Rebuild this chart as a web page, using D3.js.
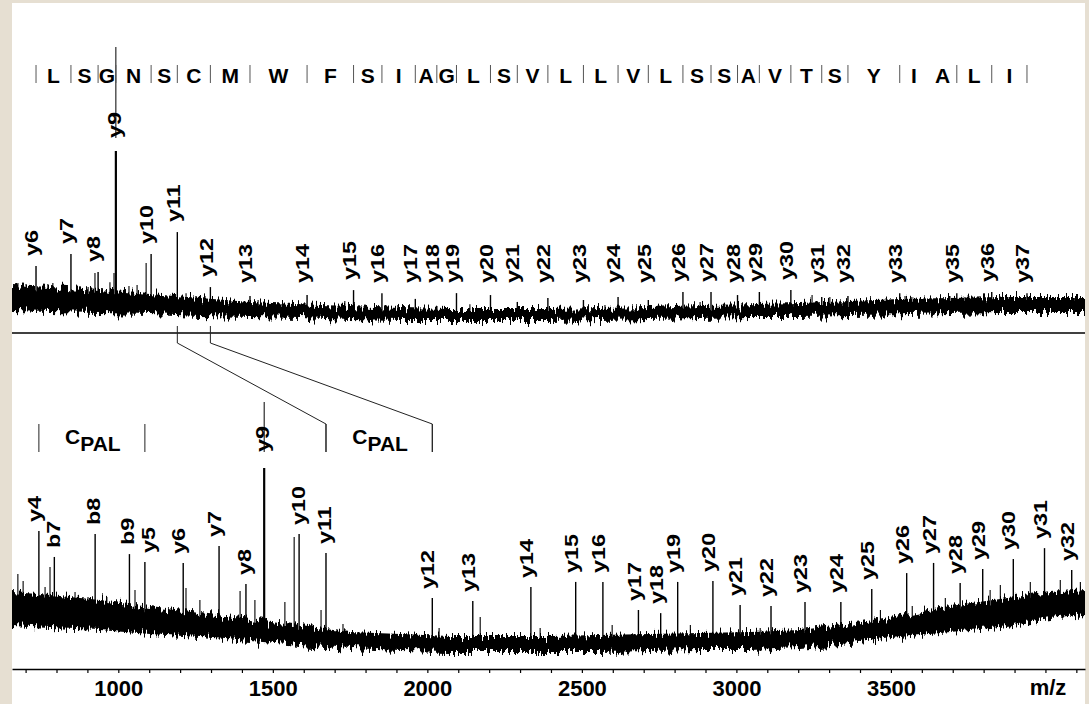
<!DOCTYPE html>
<html>
<head>
<meta charset="utf-8">
<script src="https://cdn.jsdelivr.net/npm/d3@7"></script>
<style>
  html, body { margin: 0; padding: 0; background: #e6dfd2; }
  svg { display: block; }
  text { font-family: "Liberation Sans", Arial, Helvetica, sans-serif; font-weight: bold; fill: #000; }
</style>
</head>
<body>
<svg id="chart" width="1089" height="704"></svg>
<script>
// ===== Upper trace: unmodified peptide, y-ion ladder =====
const topIonLabels = ["y6","y7","y8","y9","y10","y11","y12","y13","y14","y15","y16","y17","y18","y19","y20",
  "y21","y22","y23","y24","y25","y26","y27","y28","y29","y30","y31","y32","y33","y35","y36","y37"];
const topIonMz = [637, 749, 836, 893, 1006, 1090, 1196, 1323, 1506, 1655, 1746, 1853, 1922, 1985, 2094,
  2180, 2278, 2392, 2503, 2600, 2711, 2801, 2886, 2956, 3057, 3156, 3240, 3406, 3589, 3701, 3814];
const topIonIntensity = [20.4, 24.7, 18.2, 100, 24.7, 32.7, 12.7, 9.5, 9.8, 11.6, 10.5, 8.4, 5.8, 10.5, 9.8,
  7.3, 8.7, 8.0, 9.1, 8.0, 10.9, 10.9, 9.8, 10.9, 11.6, 9.1, 9.5, 10.5, 10.5, 10.9, 10.5];
// residues read between consecutive ions of the ladder
const topResidues = ["L","S","G","N","S","C","M","W","F","S","I","A","G","L","S","V","L","L","V","L",
  "S","S","A","V","T","S","Y","IA","L","I"];
// unlabelled fragment signals
const topMinorMz = [579, 605, 675, 691, 720, 778, 804, 826, 874, 887, 935, 961, 990, 1118, 1150, 1349, 1627,
  1797, 2028, 2317, 2461, 2766, 3125, 3182, 3423, 3445, 3567, 3615, 3727, 3753, 3871, 3967];
const topMinorIntensity = [14.2, 13.8, 13.8, 14.2, 13.1, 13.1, 12.7, 17.8, 14.5, 17.8, 13.1, 13.5, 21.5, 10.5, 9.5,
  8.0, 7.6, 6.2, 6.5, 6.2, 6.2, 7.3, 9.8, 9.1, 9.5, 9.1, 9.5, 9.1, 9.5, 9.1, 8.7, 8.7];
// chemical noise envelope
const topNoiseMz   = [560, 682, 842, 1002, 1163, 1323, 1483, 1643, 1804, 1964, 2124, 2285, 2445, 2605, 2765,
  2926, 3086, 3246, 3406, 3567, 3727, 3887, 4000];
const topNoiseHigh = [13.5, 12.7, 11.6, 10.2, 8.7, 7.3, 6.5, 5.8, 5.1, 4.7, 4.7, 4.7, 5.1, 5.5, 6.2,
  6.5, 6.9, 7.6, 8.4, 8.7, 9.1, 9.1, 9.1];
const topNoiseLow  = [4.0, 3.6, 3.3, 2.9, 2.2, 1.8, 1.5, 0.7, 0.4, 0.4, 0.4, 0.4, 0.7, 1.1, 1.5,
  1.8, 1.8, 2.2, 2.5, 2.9, 3.3, 3.3, 3.3];

// ===== Lower trace: palmitoylated peptide =====
const botIonLabels = ["y4","b7","b8","b9","y5","y6","y7","y8","y9","y10","y11","y12","y13","y14","y15","y16",
  "y17","y18","y19","y20","y21","y22","y23","y24","y25","y26","y27","y28","y29","y30","y31","y32"];
const botIonMz = [743, 793, 925, 1036, 1086, 1210, 1326, 1413, 1472, 1585, 1672, 2016, 2147, 2335, 2480, 2568,
  2683, 2755, 2810, 2924, 3012, 3112, 3222, 3338, 3438, 3551, 3638, 3724, 3797, 3896, 3997, 4085];
const botIonIntensity = [50.4, 40.4, 49.2, 41.5, 38.5, 38.1, 44.6, 30.0, 100, 49.2, 41.9, 24.6, 23.5, 28.8, 30.8, 30.8,
  20.0, 18.8, 30.8, 31.2, 21.9, 21.5, 23.1, 23.1, 28.1, 34.2, 38.1, 30.4, 35.8, 39.6, 43.8, 35.4];
const botMinorMz = [675, 692, 763, 779, 860, 902, 963, 1054, 1219, 1264, 1394, 1442, 1539, 1569, 1656, 1727,
  2038, 2171, 2365, 2598, 2851, 3077, 3466, 3569, 3676, 3821, 3854, 3951, 4048, 4113];
const botMinorIntensity = [33.8, 31.2, 28.8, 36.5, 26.9, 25.0, 25.0, 27.7, 28.5, 23.8, 27.3, 23.8, 23.1, 48.1, 20.0, 14.6,
  13.1, 17.3, 13.1, 14.2, 14.2, 13.1, 20.0, 21.5, 24.6, 27.7, 29.6, 30.8, 31.5, 30.8];
const botNoiseMz   = [656, 779, 941, 1103, 1264, 1427, 1588, 1750, 1912, 2073, 2235, 2397, 2559, 2720, 2882,
  3044, 3206, 3368, 3530, 3692, 3854, 4016, 4128];
const botNoiseHigh = [26.9, 25.8, 23.8, 21.2, 18.8, 16.5, 13.8, 11.5, 10.8, 10.0, 10.0, 10.0, 10.4, 10.8, 11.2,
  11.5, 12.3, 14.6, 18.1, 21.5, 24.2, 26.9, 28.1];
const botNoiseLow  = [13.8, 13.1, 12.3, 10.8, 9.6, 8.1, 6.5, 5.0, 4.2, 3.8, 3.8, 3.8, 3.8, 4.2, 4.6,
  4.6, 5.4, 7.3, 9.6, 11.5, 13.5, 16.5, 18.1];

// palmitoyl-cysteine spans (ion pairs) and ions linked between the two traces
const palSpans = [["y4", "y5"], ["y11", "y12"]];
const palText = ["C", "PAL"];
const linkedIons = ["y11", "y12"];

// m/z axis
const axisLabels = [1000, 1500, 2000, 2500, 3000, 3500];
const axisTicks = d3.range(700, 4101, 100);
const axisTitle = "m/z";

// ===== layout =====
const L = 12, R = 1085;
const svg = d3.select("#chart");

const xTop = d3.scaleLinear().domain([560, 4000]).range([L, R]);
const yTop = d3.scaleLinear().domain([0, 100]).range([322, 47]);
const xBot = d3.scaleLinear().domain([656, 4128]).range([L, R]);
const yBot = d3.scaleLinear().domain([0, 100]).range([662, 402]);

const defs = svg.append("defs");
// rough, spiky edge for the noise bands
const rough = defs.append("filter").attr("id", "rough")
  .attr("filterUnits", "userSpaceOnUse").attr("x", 0).attr("y", 0).attr("width", 1089).attr("height", 704)
  .attr("color-interpolation-filters", "sRGB");
rough.append("feTurbulence").attr("type", "fractalNoise").attr("baseFrequency", "0.5 0.03")
  .attr("numOctaves", 3).attr("seed", 11).attr("result", "n");
rough.append("feColorMatrix").attr("in", "n").attr("type", "matrix")
  .attr("values", "0 0 0 0 0.5  0 1 0 0 0  0 0 0 0 0.5  0 0 0 0 1").attr("result", "m");
rough.append("feDisplacementMap").attr("in", "SourceGraphic").attr("in2", "m")
  .attr("scale", 18).attr("xChannelSelector", "R").attr("yChannelSelector", "G");

defs.append("clipPath").attr("id", "clipTop").append("rect")
  .attr("x", L).attr("y", 3).attr("width", R - L).attr("height", 329);
defs.append("clipPath").attr("id", "clipBot").append("rect")
  .attr("x", L).attr("y", 334).attr("width", R - L).attr("height", 334);

// white drawing sheet
svg.append("rect").attr("x", L).attr("y", 3).attr("width", R - L).attr("height", 701).attr("fill", "#fff");

function drawTrace(cfg) {
  const g = svg.append("g");
  const noise = cfg.noiseMz.map((m, i) => ({ m, hi: cfg.noiseHigh[i], lo: cfg.noiseLow[i] }));
  const area = d3.area().x(d => cfg.x(d.m)).y0(d => cfg.y(d.lo)).y1(d => cfg.y(d.hi));
  g.append("g").attr("clip-path", `url(#${cfg.clip})`)
    .append("path").datum(noise).attr("d", area).attr("fill", "#000").attr("filter", "url(#rough)");

  // baseline level under each stem
  const floor = d3.scaleLinear().domain(cfg.noiseMz)
    .range(noise.map(d => (cfg.y(d.hi) + cfg.y(d.lo)) / 2 + 3)).clamp(true);

  g.append("g").selectAll("line").data(cfg.minorMz.map((m, i) => ({ m, v: cfg.minorInt[i] })))
    .join("line")
    .attr("x1", d => cfg.x(d.m)).attr("x2", d => cfg.x(d.m))
    .attr("y1", d => floor(d.m)).attr("y2", d => cfg.y(d.v))
    .attr("stroke", "#000").attr("stroke-width", 1.1);

  const ions = cfg.labels.map((lab, i) => ({ lab, m: cfg.mz[i], v: cfg.intensity[i] }));
  ions.forEach(d => {
    const px = cfg.x(d.m);
    if (d.v >= 100) {
      // base peak: stem runs through its label with a short break below it
      g.append("line").attr("x1", px).attr("x2", px).attr("y1", cfg.y(d.v)).attr("y2", cfg.baseLabelY)
        .attr("stroke", "#000").attr("stroke-width", 1);
      g.append("line").attr("x1", px).attr("x2", px).attr("y1", cfg.baseLabelY + cfg.baseGap).attr("y2", floor(d.m))
        .attr("stroke", "#000").attr("stroke-width", 2.2);
      d.lb = cfg.baseLabelY; d.lx = px;
    } else {
      g.append("line").attr("x1", px).attr("x2", px).attr("y1", floor(d.m)).attr("y2", cfg.y(d.v))
        .attr("stroke", "#000").attr("stroke-width", 1.4);
      d.lb = Math.min(cfg.y(d.v) - cfg.labelGap, cfg.labelFloor);
      d.lx = px + (cfg.nudge[d.lab] !== undefined ? cfg.nudge[d.lab] : -2.5);
    }
  });

  g.append("g").selectAll("text").data(ions).join("text")
    .attr("transform", d => `translate(${d.lx},${d.lb}) rotate(-90) scale(1.3,1)`)
    .attr("y", "0.26em")
    .style("font-size", "18px")
    .text(d => d.lab);
  return ions;
}

drawTrace({
  x: xTop, y: yTop, clip: "clipTop",
  noiseMz: topNoiseMz, noiseHigh: topNoiseHigh, noiseLow: topNoiseLow,
  minorMz: topMinorMz, minorInt: topMinorIntensity,
  labels: topIonLabels, mz: topIonMz, intensity: topIonIntensity,
  baseLabelY: 138, baseGap: 13, labelGap: 10, labelFloor: 283, nudge: {}
});
drawTrace({
  x: xBot, y: yBot, clip: "clipBot",
  noiseMz: botNoiseMz, noiseHigh: botNoiseHigh, noiseLow: botNoiseLow,
  minorMz: botMinorMz, minorInt: botMinorIntensity,
  labels: botIonLabels, mz: botIonMz, intensity: botIonIntensity,
  baseLabelY: 452, baseGap: 16, labelGap: 9, labelFloor: 1000, nudge: { y5: 5, b7: 0.5, b8: 0, b9: 0, y8: 0, y10: 1, y11: 0 }
});

// sequence ladder above the upper trace
const seq = svg.append("g");
topIonMz.forEach((m, i) => {
  seq.append("line").attr("x1", xTop(m)).attr("x2", xTop(m)).attr("y1", 65).attr("y2", 83)
    .attr("stroke", "#555").attr("stroke-width", 1);
});
topResidues.forEach((res, i) => {
  const a = xTop(topIonMz[i]), b = xTop(topIonMz[i + 1]);
  const letters = res.split("");
  letters.forEach((ch, k) => {
    seq.append("text").attr("x", a + (k + 0.5) / letters.length * (b - a)).attr("y", 83)
      .attr("text-anchor", "middle").style("font-size", "21px").text(ch);
  });
});

// divider between traces
svg.append("line").attr("x1", L).attr("x2", R).attr("y1", 333).attr("y2", 333)
  .attr("stroke", "#000").attr("stroke-width", 1.5);

// links between the two traces
const topMzOf = lab => topIonMz[topIonLabels.indexOf(lab)];
const botMzOf = lab => botIonMz[botIonLabels.indexOf(lab)];
linkedIons.forEach(lab => {
  const xt = xTop(topMzOf(lab)), xb = xBot(botMzOf(lab));
  svg.append("polyline")
    .attr("points", [[xt, 326], [xt, 343], [xb, 424], [xb, 452]].map(p => p.join(",")).join(" "))
    .attr("fill", "none").attr("stroke", "#222").attr("stroke-width", 1);
});

// palmitoyl-cysteine brackets
palSpans.forEach(([a, b]) => {
  const xa = xBot(botMzOf(a)), xb = xBot(botMzOf(b));
  [xa, xb].forEach(px => svg.append("line").attr("x1", px).attr("x2", px).attr("y1", 424).attr("y2", 452)
    .attr("stroke", "#222").attr("stroke-width", 1));
  const t = svg.append("text").attr("x", (xa + xb) / 2 + 1).attr("y", 444)
    .attr("text-anchor", "middle").style("font-size", "21px");
  t.append("tspan").text(palText[0]);
  t.append("tspan").attr("dy", 7).text(palText[1]);
});

// m/z axis
const axisG = svg.append("g").attr("transform", "translate(0,669)")
  .call(d3.axisBottom(xBot).tickValues(axisTicks).tickSize(4).tickSizeOuter(0).tickPadding(7)
    .tickFormat(d => axisLabels.includes(d) ? d : ""));
axisG.select(".domain").attr("stroke", "#000").attr("stroke-width", 1.5);
axisG.selectAll(".tick line").attr("stroke", "#000").attr("stroke-width", 1.2);
axisG.selectAll(".tick text").style("font-size", "22px")
  .style("font-family", "'Liberation Sans', Arial, sans-serif").style("font-weight", "bold").attr("fill", "#000");
svg.append("text").attr("x", 1048).attr("y", 695).attr("text-anchor", "middle")
  .style("font-size", "22px").text(axisTitle);
</script>
</body>
</html>
